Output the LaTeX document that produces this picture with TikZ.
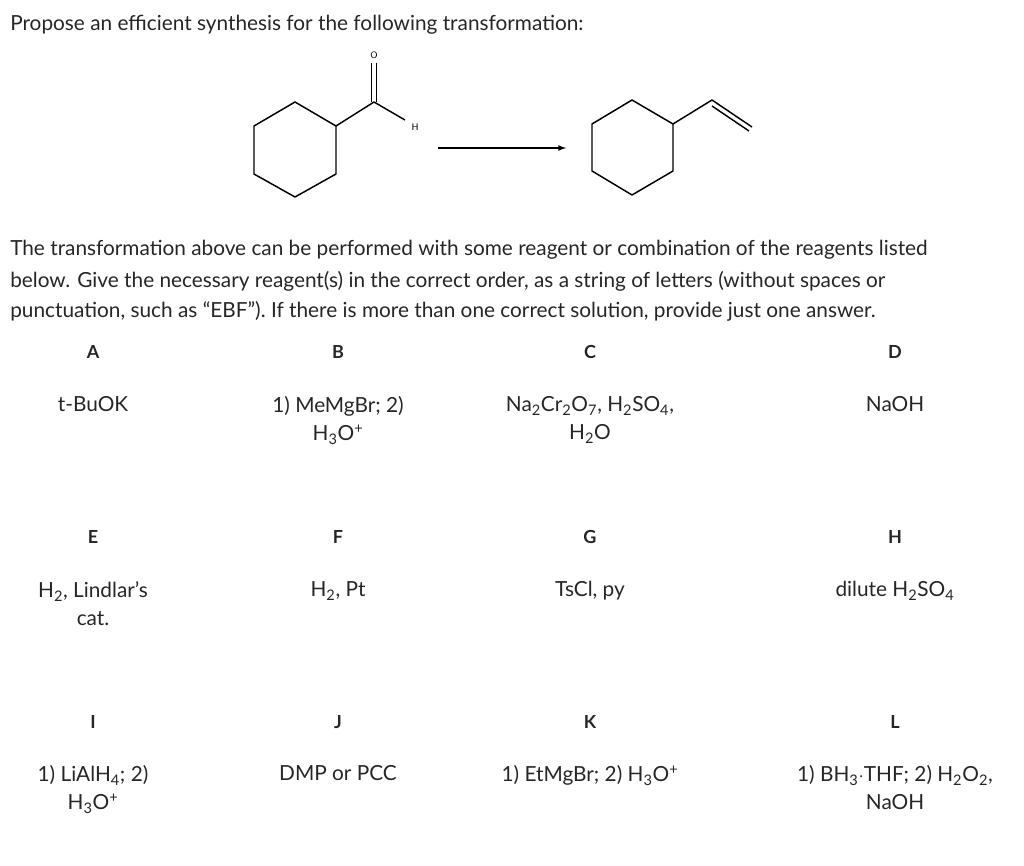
\documentclass[tikz,border=0pt]{standalone}
\usepackage{fontspec}
\setmainfont{Lato}
\newcommand{\sbs}[1]{\textsubscript{#1}}
\newcommand{\sps}[1]{\textsuperscript{#1}}
\begin{document}
\begin{tikzpicture}[x=0.75pt,y=-0.75pt,
  bond/.style={line width=1.1pt,line join=round},
  para/.style={anchor=west,inner sep=0,font=\fontsize{15.6}{18}\selectfont,text=black!85},
  hdr/.style={inner sep=0,font=\fontsize{13.5}{15}\selectfont\bfseries,text=black!85},
  cell/.style={inner sep=0,align=center,font=\fontsize{15.6}{21}\selectfont,text=black!85}]
\useasboundingbox (0,0) rectangle (1024,866);
\node[para] (p1) at (10,25) {Propose an efficient synthesis for the following transformation:};
\node[para] (p2) at (10,250) {The transformation above can be performed with some reagent or combination of the reagents listed};
\node[para] (p3) at (10,281) {below. Give the necessary reagent(s) in the correct order, as a string of letters (without spaces or};
\node[para] (p4) at (10,311) {punctuation, such as ``EBF''). If there is more than one correct solution, provide just one answer.};
% left molecule
\draw[bond] (295,102)--(336,126)--(336,174)--(295,197)--(254,174)--(254,126)--cycle;
\draw[bond] (336,126)--(374,102)--(405,120);
\draw[bond] (371.5,102)--(371.5,63) (376.5,102)--(376.5,63);
\node[inner sep=0,font=\fontsize{7}{8}\sffamily] (O) at (374,55) {O};
\node[inner sep=0,font=\fontsize{7}{8}\sffamily] (H) at (415,127) {H};
% arrow
\coordinate (a1) at (438,148); \coordinate (a2) at (566,148);
\draw[line width=1pt,-latex] (a1)--(a2);
% right molecule
\draw[bond] (632,100)--(673,124)--(673,171)--(632,195)--(592,171)--(592,124)--cycle;
\draw[bond] (673,124)--(712,100)--(752,127);
\draw[bond] (712,106)--(749,131);
% table
\foreach \n/\x/\y/\t in {A/93/352/A,B/338/352/B,C/590/352/C,D/895/352/D,
  E/93/537/E,F/338/537/F,G/590/537/G,H2/895/537/H,
  I/93/722/I,J/338/722/J,K/590/722/K,L/895/722/L}
  \node[hdr] (h\n) at (\x,\y) {\t};
\node[cell,anchor=north] (cA) at (93,396) {t-BuOK};
\node[cell,anchor=north] (cB) at (338,396) {1) MeMgBr; 2)\\H\sbs{3}O\sps{+}};
\node[cell,anchor=north] (cC) at (590,396) {Na\sbs{2}Cr\sbs{2}O\sbs{7}, H\sbs{2}SO\sbs{4},\\H\sbs{2}O};
\node[cell,anchor=north] (cD) at (895,396) {NaOH};
\node[cell,anchor=north] (cE) at (93,581) {H\sbs{2}, Lindlar's\\cat.};
\node[cell,anchor=north] (cF) at (338,581) {H\sbs{2}, Pt};
\node[cell,anchor=north] (cG) at (590,581) {TsCl, py};
\node[cell,anchor=north] (cH) at (895,581) {dilute H\sbs{2}SO\sbs{4}};
\node[cell,anchor=north] (cI) at (93,765) {1) LiAlH\sbs{4}; 2)\\H\sbs{3}O\sps{+}};
\node[cell,anchor=north] (cJ) at (338,765) {DMP or PCC};
\node[cell,anchor=north] (cK) at (590,765) {1) EtMgBr; 2) H\sbs{3}O\sps{+}};
\node[cell,anchor=north] (cL) at (895,765) {1) BH\sbs{3}$\cdot$THF; 2) H\sbs{2}O\sbs{2},\\NaOH};
\end{tikzpicture}
\end{document}
